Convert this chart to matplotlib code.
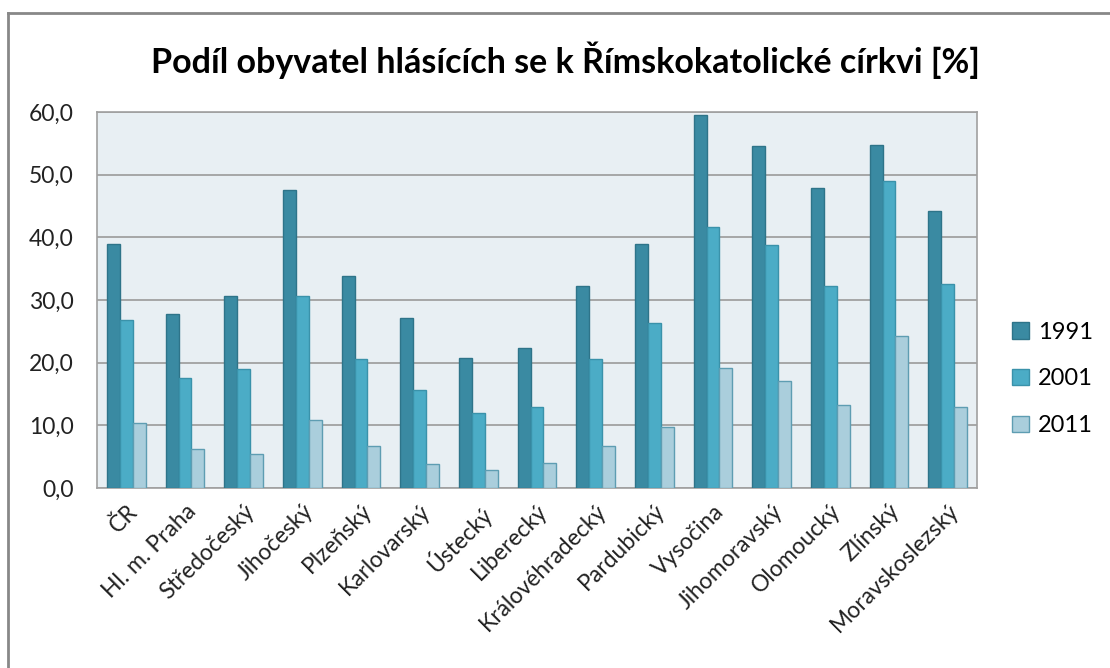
import matplotlib
matplotlib.use("Agg")
import matplotlib.pyplot as plt
import numpy as np
from matplotlib.lines import Line2D
from matplotlib.ticker import FuncFormatter

categories = ["ČR", "Hl. m. Praha", "Středočeský", "Jihočeský", "Plzeňský",
              "Karlovarský", "Ústecký", "Liberecký", "Královéhradecký",
              "Pardubický", "Vysočina", "Jihomoravský", "Olomoucký",
              "Zlínský", "Moravskoslezský"]
series_names = ["1991", "2001", "2011"]
v1991 = [39.0, 27.8, 30.7, 47.6, 33.9, 27.1, 20.8, 22.3, 32.3, 39.0, 59.6, 54.5, 47.9, 54.7, 44.2]
v2001 = [26.8, 17.5, 19.0, 30.7, 20.6, 15.7, 12.0, 13.0, 20.6, 26.4, 41.7, 38.8, 32.3, 49.0, 32.5]
v2011 = [10.3, 6.3, 5.5, 10.8, 6.7, 3.9, 2.8, 4.0, 6.7, 9.8, 19.2, 17.0, 13.2, 24.3, 13.0]
title = "Podíl obyvatel hlásících se k Římskokatolické církvi [%]"

plt.rcParams['font.family'] = ['Lato', 'DejaVu Sans']

W, H = 1110, 668
fig = plt.figure(figsize=(W / 100, H / 100), dpi=100)
ax = fig.add_axes([97 / W, 1 - 488 / H, (977 - 97) / W, (488 - 112) / H])

colors = ["#3A8AA2", "#4BACC6", "#AACEDC"]
edges = ["#2E7489", "#3A92AA", "#5E9DB2"]
x = np.arange(len(categories))
bw = 0.22
for i, (vals, c, e, n) in enumerate(zip([v1991, v2001, v2011], colors, edges, series_names)):
    ax.bar(x + (i - 1) * bw, vals, width=bw, color=c, edgecolor=e, linewidth=1.0,
           label=n, zorder=3)

ax.set_facecolor("#E8EFF3")
ax.set_xlim(-0.5, len(categories) - 0.5)
ax.set_ylim(0, 60)
ax.set_yticks(np.arange(0, 61, 10))
ax.yaxis.set_major_formatter(FuncFormatter(lambda v, p: f"{v:.1f}".replace(".", ",")))
ax.grid(axis="y", color="#9A9A9A", linewidth=1.2, zorder=1)
for s in ax.spines.values():
    s.set_color("#A0A0A0")
    s.set_linewidth(1.2)
ax.tick_params(axis="both", length=0, labelsize=16.5, colors="#222222")
ax.tick_params(axis="y", pad=17)
ax.set_xticks(x)
ax.set_xticklabels(categories, rotation=45, ha="right", rotation_mode="anchor", fontsize=16.5)
ax.tick_params(axis="x", pad=9)

fig.text(565 / W, 1 - 60 / H, title, ha="center", va="center", fontsize=24.5,
         fontweight="bold", color="#000000")

handles = [plt.Rectangle((0, 0), 1, 1, facecolor=c, edgecolor=e) for c, e in zip(colors, edges)]
fig.legend(handles, series_names, loc="center left", bbox_to_anchor=(1012 / W, 1 - 379 / H),
           frameon=False, fontsize=17, handlelength=0.7, handleheight=0.7,
           labelspacing=1.1, handletextpad=0.4, borderpad=0, borderaxespad=0)

fig.add_artist(Line2D([8 / W, 8 / W], [0, 1 - 13 / H], transform=fig.transFigure,
                      color="#888888", linewidth=2))
fig.add_artist(Line2D([8 / W, 1], [1 - 13 / H, 1 - 13 / H], transform=fig.transFigure,
                      color="#888888", linewidth=2))

fig.savefig("out.png", dpi=100)
